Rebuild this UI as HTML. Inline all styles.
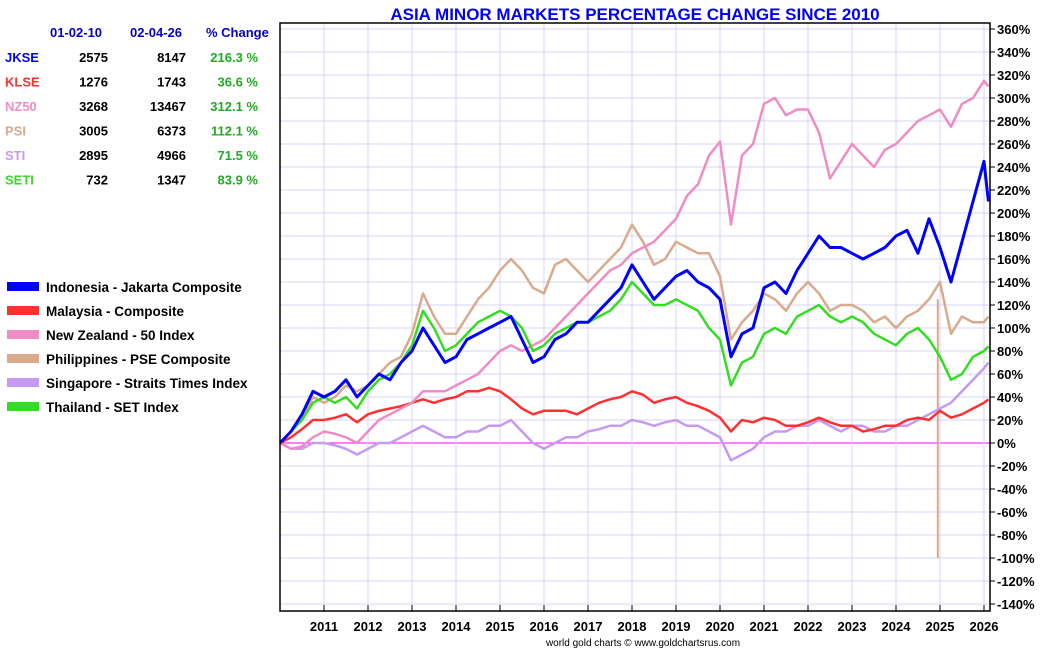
<!DOCTYPE html>
<html><head><meta charset="utf-8">
<style>
body{margin:0;background:#fff;font-family:"Liberation Sans",Arial,sans-serif;}
#wrap{position:relative;width:1050px;height:650px;overflow:hidden;}
svg text{font-family:"Liberation Sans",Arial,sans-serif;font-weight:bold;}
</style></head>
<body>
<div id="wrap">
<svg id="chart" width="1050" height="650">
<text x="635" y="20" text-anchor="middle" font-size="17" fill="#0000ff">ASIA MINOR MARKETS PERCENTAGE CHANGE SINCE 2010</text>
<g font-size="13">
<text x="50" y="37" fill="#0000cc">01-02-10</text>
<text x="130" y="37" fill="#0000cc">02-04-26</text>
<text x="206" y="37" fill="#0000cc">% Change</text>
</g>
<g id="table-rows"></g>
<g id="legend"></g>
<g id="grid"></g>
<g id="series"></g>
<rect x="280" y="23" width="710" height="588" fill="none" stroke="#000" stroke-width="1.5"/>
<g id="axes"></g>
<text x="643" y="646" text-anchor="middle" font-size="10" font-weight="normal" style="font-weight:normal" fill="#000">world gold charts © www.goldchartsrus.com</text>
</svg>
</div>
<script>
const categories=["JKSE","KLSE","NZ50","PSI","STI","SETI"];
const startVals=[2575,1276,3268,3005,2895,732];
const endVals=[8147,1743,13467,6373,4966,1347];
const changes=["216.3 %","36.6 %","312.1 %","112.1 %","71.5 %","83.9 %"];
const legendNames=["Indonesia - Jakarta Composite","Malaysia - Composite","New Zealand - 50 Index","Philippines - PSE Composite","Singapore - Straits Times Index","Thailand - SET Index"];
const colors=["#0000ff","#ff3030","#f08cc4","#d9aa8c","#c49af2","#33dd22"];
const yTicks=[360,340,320,300,280,260,240,220,200,180,160,140,120,100,80,60,40,20,0,-20,-40,-60,-80,-100,-120,-140];
const xTicks=[2011,2012,2013,2014,2015,2016,2017,2018,2019,2020,2021,2022,2023,2024,2025,2026];
const dates=[2010,2010.25,2010.5,2010.75,2011,2011.25,2011.5,2011.75,2012,2012.25,2012.5,2012.75,2013,2013.25,2013.5,2013.75,2014,2014.25,2014.5,2014.75,2015,2015.25,2015.5,2015.75,2016,2016.25,2016.5,2016.75,2017,2017.25,2017.5,2017.75,2018,2018.25,2018.5,2018.75,2019,2019.25,2019.5,2019.75,2020,2020.25,2020.5,2020.75,2021,2021.25,2021.5,2021.75,2022,2022.25,2022.5,2022.75,2023,2023.25,2023.5,2023.75,2024,2024.25,2024.5,2024.75,2025,2025.25,2025.5,2025.75,2026,2026.1];
const jkse=[0,10,25,45,40,45,55,40,50,60,55,70,80,100,85,70,75,90,95,100,105,110,90,70,75,90,95,105,105,115,125,135,155,140,125,135,145,150,140,135,125,75,95,100,135,140,130,150,165,180,170,170,165,160,165,170,180,185,165,195,170,140,175,210,245,210];
const klse=[0,5,12,20,20,22,25,18,25,28,30,32,35,38,35,38,40,45,45,48,45,38,30,25,28,28,28,25,30,35,38,40,45,42,35,38,40,35,32,28,22,10,20,18,22,20,15,15,18,22,18,15,15,10,12,15,15,20,22,20,28,22,25,30,35,38];
const nz50=[0,-5,-3,5,10,8,5,0,10,20,25,30,35,45,45,45,50,55,60,70,80,85,80,85,90,100,110,120,130,140,150,155,165,170,175,185,195,215,225,250,262,190,250,260,295,300,285,290,290,270,230,245,260,250,240,255,260,270,280,285,290,275,295,300,315,310];
const psi=[0,10,20,40,35,40,50,45,50,60,70,75,95,130,110,95,95,110,125,135,150,160,150,135,130,155,160,150,140,150,160,170,190,175,155,160,175,170,165,165,145,90,105,115,130,125,115,130,140,130,115,120,120,115,105,110,100,110,115,125,140,95,110,105,105,110];
const sti=[0,-5,-5,0,0,-2,-5,-10,-5,0,0,5,10,15,10,5,5,10,10,15,15,20,10,0,-5,0,5,5,10,12,15,15,20,18,15,18,20,15,15,10,5,-15,-10,-5,5,10,10,15,15,20,15,10,15,15,10,10,15,15,20,25,30,35,45,55,65,70];
const seti=[0,10,20,35,40,35,40,30,45,55,60,70,85,115,100,80,85,95,105,110,115,110,100,80,85,95,100,105,105,110,115,125,140,130,120,120,125,120,115,100,90,50,70,75,95,100,95,110,115,120,110,105,110,105,95,90,85,95,100,90,75,55,60,75,80,84];
const psiSpikeDates=[2024.95];
const psiSpikeValues=[-100];
const allSeries=[jkse,klse,nz50,psi,sti,seti];

const NS="http://www.w3.org/2000/svg";
const X=t=>280+(t-2010)*44;
const Y=v=>443-v*1.15;
function mk(tag,attrs,parent){const e=document.createElementNS(NS,tag);for(const k in attrs)e.setAttribute(k,attrs[k]);parent.appendChild(e);return e;}

const grid=document.getElementById('grid'),axes=document.getElementById('axes');
yTicks.forEach(v=>{
  const l=mk('line',{x1:280,x2:990,y1:Y(v),y2:Y(v),stroke:v===0?'#ff00ff':'#d4d4f4','stroke-width':1},grid);
  
  
  const tk=mk('line',{x1:990,x2:995,y1:Y(v),y2:Y(v),stroke:'#000'},axes);
  
  
  const t=mk('text',{x:997,y:Y(v)+5,'font-size':13,fill:'#000'},axes);
  t.textContent=v+'%';
  
  
});
xTicks.forEach(yr=>{
  const l=mk('line',{x1:X(yr),x2:X(yr),y1:23,y2:611,stroke:'#d4d4f4'},grid);
  
  
  const tk=mk('line',{x1:X(yr),x2:X(yr),y1:605,y2:611,stroke:'#000'},axes);
  
  
  const t=mk('text',{x:X(yr),y:631,'font-size':13,fill:'#000','text-anchor':'middle'},axes);
  t.textContent=yr;
  
  
});

const sg=document.getElementById('series');
const order=[3,4,1,2,5,0];
order.forEach(i=>{
  const d=allSeries[i];
  const pts=d.map((v,k)=>X(dates[k]).toFixed(1)+','+Y(v).toFixed(1)).join(' ');
  const p=mk('polyline',{points:pts,fill:'none',stroke:colors[i],'stroke-width':i===0?3:2.5,'stroke-linejoin':'round'},sg);
  
  
  if(i===3){
    psiSpikeDates.forEach((sd,k)=>{
      const idx=dates.findIndex(dd=>dd>sd)-1;
      const s=mk('line',{x1:X(sd),x2:X(sd),y1:Y(psi[idx]),y2:Y(psiSpikeValues[k]),stroke:colors[3],'stroke-width':2},sg);
      
      
    });
  }
});

const tr=document.getElementById('table-rows');
categories.forEach((c,i)=>{
  const y=62+i*24.5;
  const a=mk('text',{x:5,y:y,'font-size':13,fill:colors[i]},tr);a.textContent=c;
  
  
  const b=mk('text',{x:108,y:y,'font-size':13,fill:'#000','text-anchor':'end'},tr);b.textContent=startVals[i];
  
  
  const e=mk('text',{x:186,y:y,'font-size':13,fill:'#000','text-anchor':'end'},tr);e.textContent=endVals[i];
  
  
  const f=mk('text',{x:258,y:y,'font-size':13,fill:'#22aa22','text-anchor':'end'},tr);f.textContent=changes[i];
  
  
});
const lg=document.getElementById('legend');
legendNames.forEach((n,i)=>{
  const y=288+i*24;
  const r=mk('rect',{x:7,y:y-6,width:32,height:9,fill:colors[i]},lg);
  
  
  const t=mk('text',{x:46,y:y+4,'font-size':13.5,fill:'#000'},lg);t.textContent=n;
  
  
});
</script>
</body></html>
